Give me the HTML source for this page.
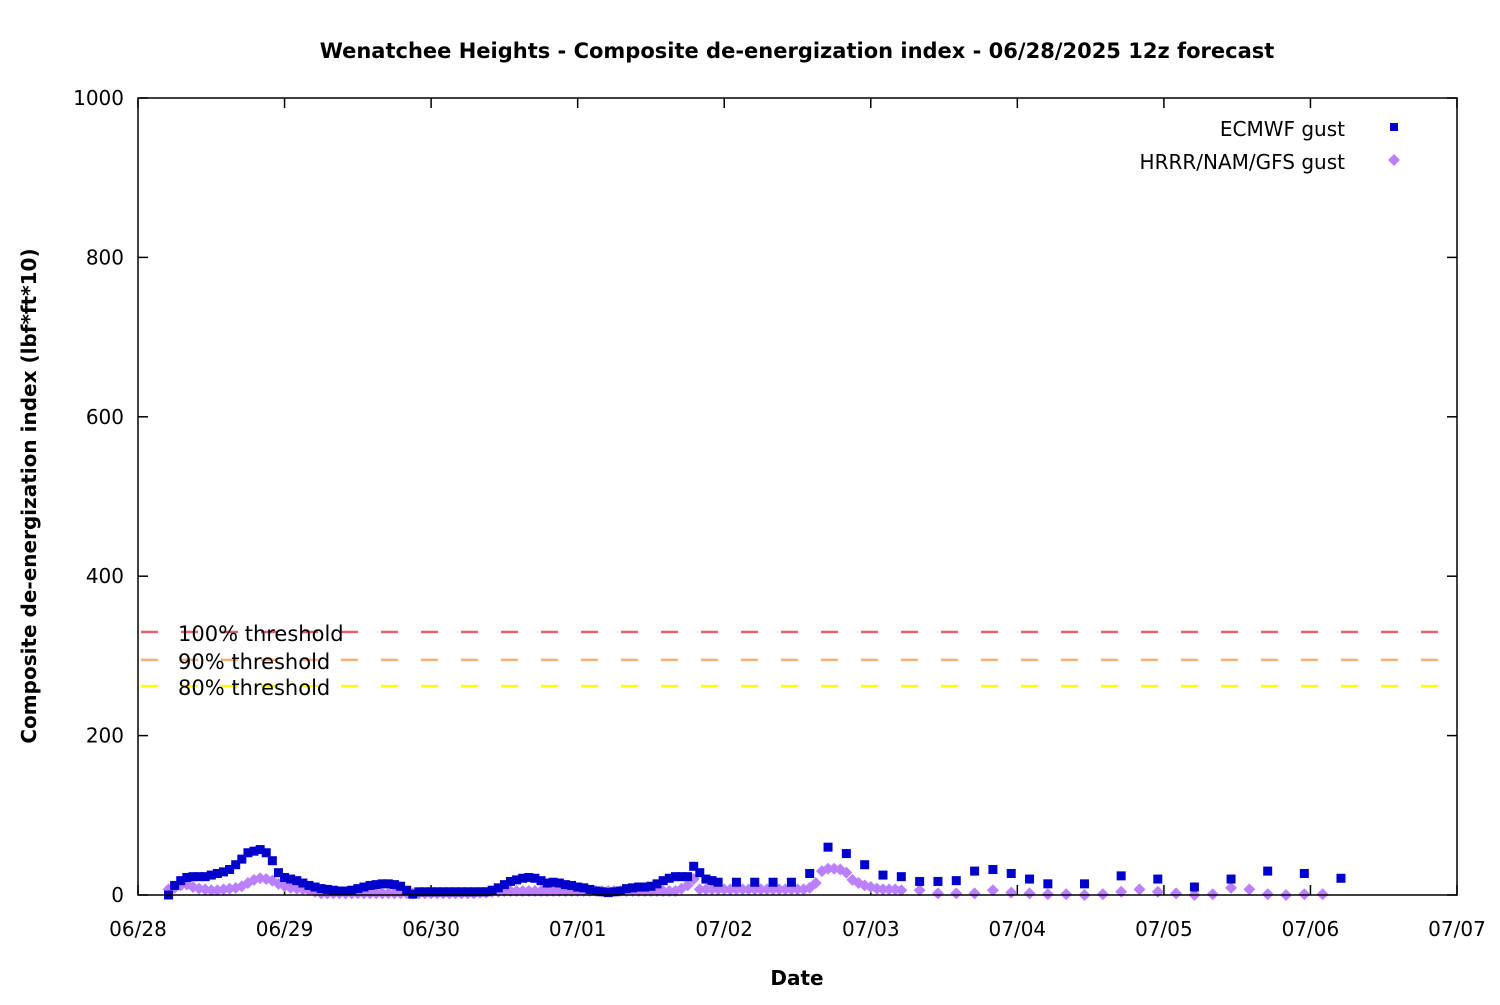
<!DOCTYPE html>
<html><head><meta charset="utf-8"><style>
body{margin:0;background:#fff}
text{font-family:"DejaVu Sans","Liberation Sans",sans-serif;fill:#000}
</style></head><body>
<svg id="chart" width="1500" height="1000" xmlns="http://www.w3.org/2000/svg">
<rect width="1500" height="1000" fill="#fff"/>
<text x="797" y="58" font-size="21" font-weight="bold" text-anchor="middle">Wenatchee Heights - Composite de-energization index - 06/28/2025 12z forecast</text>
<text x="797" y="985" font-size="20" font-weight="bold" text-anchor="middle">Date</text>
<text transform="translate(36,496) rotate(-90)" font-size="20" font-weight="bold" text-anchor="middle">Composite de-energization index (lbf*ft*10)</text>
<g id="grid"></g>
<g id="marks"></g>
<rect x="138" y="98" width="1319" height="797" fill="none" stroke="#000" stroke-width="1.5"/>
<g>
<text x="1345" y="136" font-size="20" text-anchor="end">ECMWF gust</text>
<rect x="1390" y="123" width="8" height="8" fill="#0000cc"/>
<text x="1345" y="169" font-size="20" text-anchor="end">HRRR/NAM/GFS gust</text>
<polygon points="1394,154 1400,160 1394,166 1388,160" fill="#bb80ff"/>
</g>
</svg>
<script>
const xTickLabels=["06/28","06/29","06/30","07/01","07/02","07/03","07/04","07/05","07/06","07/07"];
const yTicks=[0,200,400,600,800,1000];
const thresholdNames=["100% threshold","90% threshold","80% threshold"];
const thresholdValues=[330,295,262];
const thresholdColors=["#e06070","#f5b07a","#ffff00"];
const ecHours=[5,6,7,8,9,10,11,12,13,14,15,16,17,18,19,20,21,22,23,24,25,26,27,28,29,30,31,32,33,34,35,36,37,38,39,40,41,42,43,44,45,46,47,48,49,50,51,52,53,54,55,56,57,58,59,60,61,62,63,64,65,66,67,68,69,70,71,72,73,74,75,76,77,78,79,80,81,82,83,84,85,86,87,88,89,90,91,92,93,94,95,98,101,104,107,110,113,116,119,122,125,128,131,134,137,140,143,146,149,155,161,167,173,179,185,191,197];
const ecValues=[0,12,18,22,23,23,23,25,27,29,32,38,45,53,55,57,53,43,28,22,20,18,15,12,10,8,7,6,5,5,6,8,10,12,13,14,14,13,11,6,1,4,4,4,4,4,4,4,4,4,4,4,4,6,9,13,17,19,21,22,21,18,15,16,15,13,12,10,9,7,5,4,3,4,5,8,9,10,10,11,14,18,21,23,23,23,36,28,20,18,16,16,16,16,16,27,60,52,38,25,23,17,17,18,30,32,27,20,14,14,24,20,10,20,30,27,21];
const hrHours=[];for(let h=5;h<=125;h++)hrHours.push(h);for(let h=128;h<=197;h+=3)hrHours.push(h);
const hrValues=[7,9,12,13,10,8,7,6,6,7,8,9,11,15,19,21,20,18,14,11,9,8,7,6,4,2,2,2,2,2,2,2,2,2,2,2,2,2,2,2,2,2,2,2,2,2,2,2,2,2,2,3,3,4,4,5,5,5,5,5,5,5,5,5,5,5,5,5,5,5,5,5,5,5,5,5,5,5,5,5,5,5,5,5,8,12,20,7,7,7,7,7,7,7,7,7,7,7,7,7,7,7,7,7,7,9,15,30,33,33,32,28,19,15,12,10,8,7,7,7,6,6,
2,2,2,6,3,2,1,1,0,1,4,7,4,2,0,1,9,7,1,0,1,1];
const X0=138,X1=1457,Y0=895,Y1=98;
const xs=h=>X0+(X1-X0)*h/216;
const ys=v=>Y0-(Y0-Y1)*v/1000;
const NS="http://www.w3.org/2000/svg";
const grid=document.getElementById('grid'),marks=document.getElementById('marks');
function mk(tag,attrs,parent){const e=document.createElementNS(NS,tag);for(const k in attrs)e.setAttribute(k,attrs[k]);parent.appendChild(e);return e;}
xTickLabels.forEach((l,i)=>{const x=xs(i*24);
const t1=mk('line',{x1:x,x2:x,y1:Y0,y2:Y0-10,stroke:'#000','stroke-width':1.5},grid);


const t2=mk('line',{x1:x,x2:x,y1:Y1,y2:Y1+10,stroke:'#000','stroke-width':1.5},grid);


const tx=mk('text',{x:x,y:936,'font-size':20,'text-anchor':'middle'},grid);tx.textContent=l;

});
yTicks.forEach(v=>{const y=ys(v);
const t1=mk('line',{x1:X0,x2:X0+10,y1:y,y2:y,stroke:'#000','stroke-width':1.5},grid);


const t2=mk('line',{x1:X1,x2:X1-10,y1:y,y2:y,stroke:'#000','stroke-width':1.5},grid);


const tx=mk('text',{x:124,y:y+7,'font-size':20,'text-anchor':'end'},grid);tx.textContent=v;

});
thresholdValues.forEach((v,i)=>{const y=ys(v);
const ln=mk('line',{x1:X0+2,x2:X1-2,y1:y,y2:y,stroke:thresholdColors[i],'stroke-width':2.5,'stroke-dasharray':'17 23','stroke-dashoffset':-1},grid);


const tx=mk('text',{x:178,y:y+9,'font-size':21},grid);tx.textContent=thresholdNames[i];

});
hrHours.forEach((h,i)=>{const x=xs(h),y=ys(hrValues[i]);
const p=mk('polygon',{points:`${x},${y-6} ${x+6},${y} ${x},${y+6} ${x-6},${y}`,fill:'#bb80ff'},marks);

});
ecHours.forEach((h,i)=>{const x=xs(h),y=ys(ecValues[i]);
const r=mk('rect',{x:x-4.5,y:y-4.5,width:9,height:9,fill:'#0000cc'},marks);

});
</script>
</body></html>
